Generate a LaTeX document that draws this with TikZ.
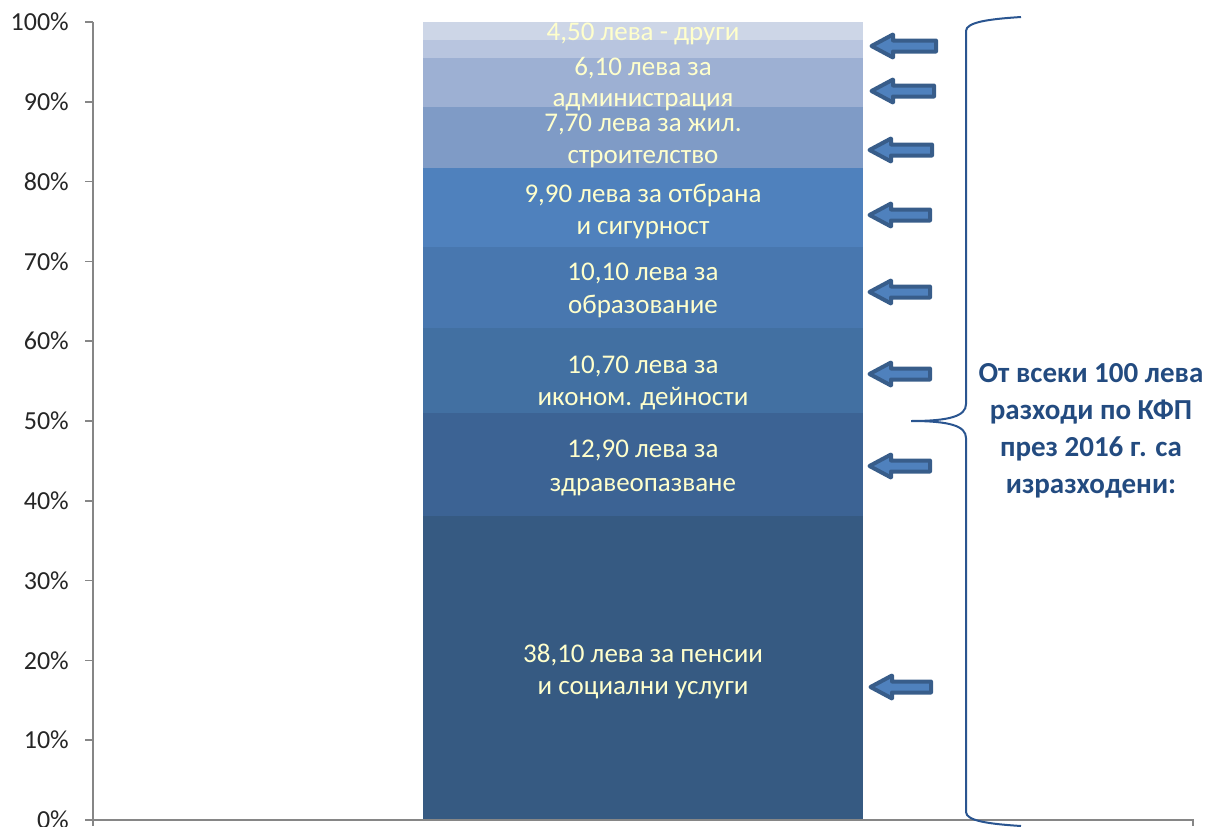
\documentclass[tikz,border=0pt]{standalone}
\usepackage{fontspec}
\setmainfont{Carlito}
\definecolor{axisgray}{HTML}{868686}
\definecolor{cA}{HTML}{365A82}
\definecolor{cB}{HTML}{3C6394}
\definecolor{cC}{HTML}{4270A2}
\definecolor{cD}{HTML}{4877AF}
\definecolor{cE}{HTML}{4F81BD}
\definecolor{cF}{HTML}{7F9BC6}
\definecolor{cG}{HTML}{9DB0D3}
\definecolor{cH}{HTML}{B8C5DF}
\definecolor{cI}{HTML}{CDD6E7}
\definecolor{lbl}{HTML}{FFFFCC}
\definecolor{arrfill}{HTML}{4F81BD}
\definecolor{arrline}{HTML}{385D8A}
\definecolor{bracecol}{HTML}{2A5590}
\definecolor{ttl}{HTML}{234B80}
\tikzset{
  axisline/.style={draw=axisgray, line width=1.6pt},
  barlabel/.style={anchor=base, text=lbl, font=\fontsize{27}{32}\selectfont, inner sep=0pt},
  ticklabel/.style={anchor=east, text=black!85, font=\fontsize{26}{30}\selectfont, inner sep=0pt},
  blockarr/.style={fill=arrfill, draw=arrline, line width=4pt, line join=round},
  bracestyle/.style={draw=bracecol, line width=2pt},
  titletext/.style={anchor=base, text=ttl, font=\bfseries\fontsize{29}{33}\selectfont, inner sep=0pt}
}
\begin{document}
\begin{tikzpicture}[x=1pt,y=-1pt]
\useasboundingbox (0,0) rectangle (1208,827);
% bar segments
\fill[cA] (423,820) rectangle (863,516);
\fill[cB] (423,516) rectangle (863,413);
\fill[cC] (423,413) rectangle (863,327.6);
\fill[cD] (423,327.6) rectangle (863,247);
\fill[cE] (423,247) rectangle (863,168);
\fill[cF] (423,168) rectangle (863,106.6);
\fill[cG] (423,106.6) rectangle (863,57.9);
\fill[cH] (423,57.9) rectangle (863,40.4);
\fill[cI] (423,40.4) rectangle (863,22);
% axes
\draw[axisline] (93,22) -- (93,826);
\draw[axisline] (85,820) -- (1193,820) -- (1193,826);
\foreach \i in {0,...,10} {
  \pgfmathsetmacro{\yy}{820-79.8*\i}
  \draw[axisline] (85,\yy) -- (93,\yy);
  \pgfmathtruncatemacro{\pp}{10*\i}
  \node[ticklabel] (t\i) at (69,\yy) {\pp\%};
}
% bar labels
\node[barlabel] (l1a) at (643,40) {4,50 лева - други};
\node[barlabel] (l2a) at (643,75) {6,10 лева за};
\node[barlabel] (l2b) at (643,106) {администрация};
\node[barlabel] (l3a) at (643,131) {7,70 лева за жил.};
\node[barlabel] (l3b) at (643,163) {строителство};
\node[barlabel] (l4a) at (643,202) {9,90 лева за отбрана};
\node[barlabel] (l4b) at (643,234) {и сигурност};
\node[barlabel] (l5a) at (643,280) {10,10 лева за};
\node[barlabel] (l5b) at (643,313) {образование};
\node[barlabel] (l6a) at (643,373) {10,70 лева за};
\node[barlabel] (l6b) at (643,405) {иконом. дейности};
\node[barlabel] (l7a) at (643,457) {12,90 лева за};
\node[barlabel] (l7b) at (643,491) {здравеопазване};
\node[barlabel] (l8a) at (643,662) {38,10 лева за пенсии};
\node[barlabel] (l8b) at (643,694) {и социални услуги};
% block arrows: tip x, centre y, right x
\foreach \tx/\cy/\rx in {869/46/938, 869/91/936, 867/150/934, 867/215/932, 867/292/932, 867/374/932, 867/466/932, 868/687/933} {
  \draw[blockarr] (\tx+2.5,\cy) -- (\tx+24,\cy-11.5) -- (\tx+24,\cy-5.5) -- (\rx-2,\cy-5.5)
     -- (\rx-2,\cy+5.5) -- (\tx+24,\cy+5.5) -- (\tx+24,\cy+11.5) -- cycle;
}
% brace
\coordinate (bt) at (1021,17);
\coordinate (bm) at (911,421);
\coordinate (bb) at (1021,826);
\draw[bracestyle] (bt) .. controls (990,19) and (966,22) .. (966,31)
  -- (966,404) .. controls (966,416) and (950,421) .. (bm)
  .. controls (950,421) and (966,426) .. (966,438)
  -- (966,812) .. controls (966,821) and (990,824) .. (bb);
% title text
\node[titletext] (h1) at (1091,382) {От всеки 100 лева};
\node[titletext] (h2) at (1091,419) {разходи по КФП};
\node[titletext] (h3) at (1091,456) {през 2016 г. са};
\node[titletext] (h4) at (1091,493) {изразходени:};
\end{tikzpicture}
\end{document}
